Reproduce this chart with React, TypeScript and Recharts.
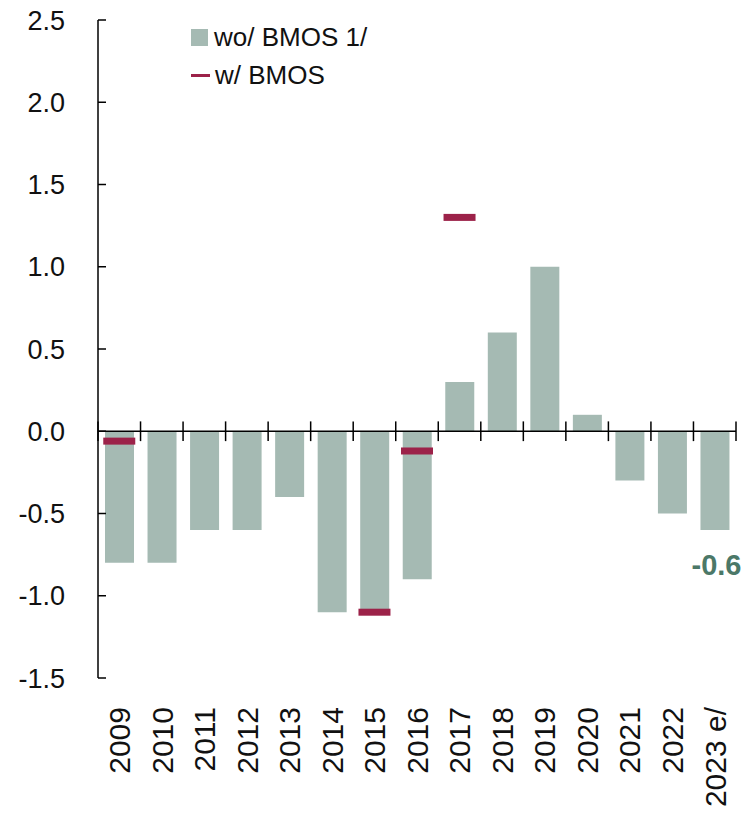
import React from "react";
import {
  ComposedChart,
  Bar,
  Scatter,
  XAxis,
  YAxis,
  ReferenceLine,
  Legend,
  LabelList,
} from "recharts";

const categories = [
  "2009", "2010", "2011", "2012", "2013", "2014", "2015", "2016",
  "2017", "2018", "2019", "2020", "2021", "2022", "2023 e/",
];
const woBmos = [-0.8, -0.8, -0.6, -0.6, -0.4, -1.1, -1.1, -0.9, 0.3, 0.6, 1.0, 0.1, -0.3, -0.5, -0.6];
const wBmos = [-0.06, null, null, null, null, null, -1.1, -0.12, 1.3, null, null, null, null, null, null];
const yTicks = [-1.5, -1.0, -0.5, 0.0, 0.5, 1.0, 1.5, 2.0, 2.5];

const BAR = "#a5bab3";
const MARK = "#9c2249";
const NOTE = "#4b7868";
const FONT = "'Liberation Sans', Arial, sans-serif";

const data = categories.map((name, i) => ({ name, wo: woBmos[i], w: wBmos[i] }));

const YTick = (props: any) => {
  const { x, y, payload } = props;
  return (
    <g>
      <line x1={x} x2={x + 8} y1={y} y2={y} stroke="#000" strokeWidth={1.5} />
      <text x={x - 33} y={y} dy="0.36em" textAnchor="end" fontSize={27} fontFamily={FONT} fill="#111">
        {Number(payload.value).toFixed(1)}
      </text>
    </g>
  );
};

const XTick = (props: any) => {
  const { x, y, payload } = props;
  return (
    <text
      x={x}
      y={y + 29}
      transform={`rotate(-90 ${x} ${y + 29})`}
      dy="0.36em"
      textAnchor="end"
      fontSize={30}
      fontFamily={FONT}
      fill="#111"
    >
      {payload.value}
    </text>
  );
};

const Marker = (props: any) => {
  const { cx, cy, payload } = props;
  if (payload == null || payload.w == null || cy == null || isNaN(cy)) return <g />;
  return <rect x={cx - 16} y={cy - 3.5} width={32} height={7} fill={MARK} />;
};

const LastLabel = (props: any) => {
  const { x, y, width, height, index, value } = props;
  if (index !== categories.length - 1) return null;
  const bottom = Math.max(y, y + height);
  return (
    <text
      x={x + width + 12}
      y={bottom + 45}
      textAnchor="end"
      fontSize={29}
      fontWeight="bold"
      fontFamily={FONT}
      fill={NOTE}
    >
      {Number(value).toFixed(1)}
    </text>
  );
};

const LegendBox = () => (
  <div style={{ fontFamily: FONT, fontSize: 26, color: "#111", lineHeight: "38px" }}>
    <div style={{ display: "flex", alignItems: "center" }}>
      <span style={{ width: 17, height: 17, background: BAR, display: "inline-block", marginRight: 6 }} />
      wo/ BMOS 1/
    </div>
    <div style={{ display: "flex", alignItems: "center" }}>
      <span style={{ width: 19, height: 3, background: MARK, display: "inline-block", marginRight: 5 }} />
      w/ BMOS
    </div>
  </div>
);

export default function App() {
  const last = categories[categories.length - 1];
  return (
    <div style={{ position: "absolute", left: 0, top: 0, background: "#fff" }}>
      <ComposedChart
        width={746}
        height={816}
        data={data}
        margin={{ top: 20, right: 10, left: 0, bottom: 0 }}
      >
        <XAxis
          dataKey="name"
          axisLine={false}
          tickLine={false}
          tickSize={0}
          tickMargin={0}
          height={138}
          interval={0}
          tick={<XTick />}
        />
        <YAxis
          domain={[-1.5, 2.5]}
          ticks={yTicks}
          width={98}
          tickSize={0}
          tickMargin={0}
          tickLine={false}
          axisLine={{ stroke: "#000", strokeWidth: 1.5 }}
          tick={<YTick />}
          interval={0}
        />
        <Legend
          layout="horizontal"
          verticalAlign="middle"
          align="center"
          content={<LegendBox />}
          wrapperStyle={{ top: 18, left: 191, width: "auto", height: "auto" }}
        />
        <Bar dataKey="wo" fill={BAR} barSize={29} isAnimationActive={false}>
          <LabelList dataKey="wo" content={<LastLabel />} />
        </Bar>
        <Scatter dataKey="w" shape={<Marker />} isAnimationActive={false} />
        <ReferenceLine y={0} stroke="#000" strokeWidth={1.5} />
        {categories.map((c) => (
          <ReferenceLine
            key={c}
            segment={[{ x: c, y: 0.06 }, { x: c, y: -0.06 }]}
            position="start"
            stroke="#000"
            strokeWidth={1.5}
          />
        ))}
        <ReferenceLine
          segment={[{ x: last, y: 0.06 }, { x: last, y: -0.06 }]}
          position="end"
          stroke="#000"
          strokeWidth={1.5}
        />
      </ComposedChart>
    </div>
  );
}
